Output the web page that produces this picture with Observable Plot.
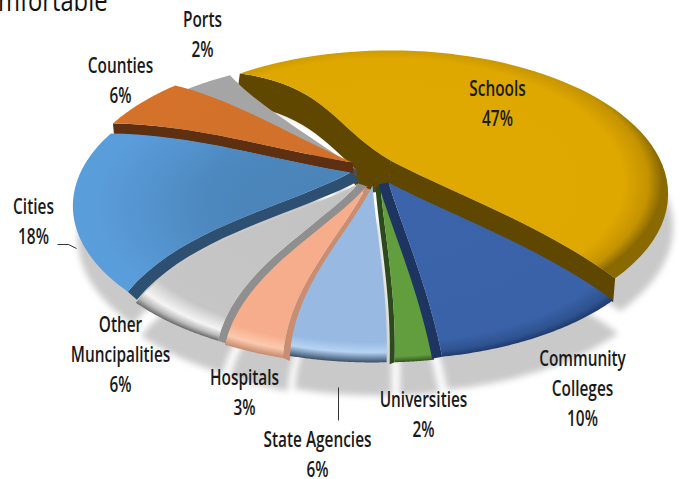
<!DOCTYPE html>
<html>
<head>
<meta charset="utf-8">
<style>html,body{margin:0;padding:0;background:#fff;overflow:hidden}</style>
<script src="https://cdn.jsdelivr.net/npm/d3@7"></script>
<script src="https://cdn.jsdelivr.net/npm/@observablehq/plot@0.6"></script>
</head>
<body>
<div id="chart"></div>
<script>
// ---- data ----
const categories = ["Schools","Community Colleges","Universities","State Agencies","Hospitals","Other Muncipalities","Cities","Counties","Ports"];
const shares = [47,10,2,6,3,6,18,6,2];
const labelLines = ["Schools\n47%","Community\nColleges\n10%","Universities\n2%","State Agencies\n6%","Hospitals\n3%","Other\nMuncipalities\n6%","Cities\n18%","Counties\n6%","Ports\n2%"];

// ---- layout (not data) ----
const W = 680, H = 479;
const cx = 368, cy = 175, a = 270, b = 135.7, p = 0.233;
const startAngle = -41;
const degPerShare = 3.6;
const offsetX = [22,20,12,4,-3,-10,-18,-16,-12];
const offsetY = [-15,7,10,10,12,8,-3,-13,-6];
const angleExtra = [8,-1,-.7,-5.6,-.3,-2.6,0,1.3,7.9];   // fitted widening of each slice, deg
const bendStart = [9,-3,-1,-1,4,6,7,4,3];
const bendEnd   = [-3,-1,-1,4,6,7,4,3,-2];
const labelX = [497,582,423,317,244,120,33,120,202];
const labelY = [101,386,412,452,390,352,219,78,32];
const stops = [
  [[0,"#e0a900"],[.86,"#dfa800"],[.95,"#c49300"],[1,"#8a6a00"]],
  [[0,"#3b64aa"],[.88,"#3a62a8"],[.96,"#2f5391"],[1,"#1f3a6e"]],
  [[0,"#629e3e"],[.96,"#629e3e"],[1,"#33561f"]],
  [[0,"#98bae2"],[.86,"#98bae2"],[.93,"#b7d3f3"],[.96,"#7f9bbb"],[1,"#3c4f66"]],
  [[0,"#f5ad8b"],[.86,"#f5ad8b"],[.94,"#fdc9ae"],[1,"#c48a6c"]],
  [[0,"#c2c2c2"],[.84,"#c6c6c6"],[.93,"#f4f4f4"],[.97,"#b9b9b9"],[1,"#6a6a6a"]],
  [[0,"#4a82b5"],[.5,"#4c87bd"],[.92,"#5a9ddb"],[1,"#5a9ddb"]],
  [[0,"#d0702a"],[1,"#d4722a"]],
  [[0,"#a5a5a5"],[1,"#a5a5a5"]]
];
const gradShiftX = [-6,0,0,0,0,0,0,0,0];
const gradShiftY = [-12,0,0,0,0,0,0,0,0];
// visible inner faces: slice index, which edge (0 start, 1 end), shift, colour
const walls = [
  [0,0,-4,30,"#5f4700"],[0,1,-2,24,"#5f4700"],
  [1,1,-10,2,"#1d3560"],[2,1,-5,2,"#2c4a1c"],
  [4,0,7,3,"#c98d72"],[5,0,9,3,"#8f8f8f"],
  [6,0,9,8,"#2d5072"],[7,0,1,11,"#5e2f10"],[8,0,1,7,"#4f4f4f"]
];
const paintOrder = [8,0,7,6,5,4,3,2,1];

// ---- geometry from the shares ----
const rad = d => d * Math.PI / 180;
function project(deg, r, ox, oy) {
  const u = r * Math.sin(rad(deg)), v = r * Math.cos(rad(deg)), w = 1 + p * v;
  return [cx + a * u / w + ox, cy - b * v / w + oy];
}
let acc = startAngle;
const slices = shares.map((s, i) => {
  const a0 = acc, a1 = acc + s * degPerShare + angleExtra[i];
  acc = a1;
  const ox = offsetX[i], oy = offsetY[i];
  const edge = (deg, bend) => d3.range(0, 21).map(k => {
    const r = k / 20;
    return project(deg + bend * 4 * r * (1 - r), r, ox, oy);
  });
  const e0 = edge(a0, bendStart[i]), e1 = edge(a1, bendEnd[i]);
  const rim = d3.range(0, 61).map(k => project(a0 + (a1 - a0) * k / 60, 1, ox, oy));
  return {i, ox, oy, e0, e1, outline: [...e0, ...rim, ...e1.slice().reverse()]};
});

const poly = (pts, fill, extra = {}) => Plot.line(pts, {x: d => d[0], y: d => d[1], fill, stroke: "none", curve: "linear", ...extra});

const marks = [];
// shadow
for (const s of slices) {
  marks.push(poly(s.outline.map(([x, y]) => [x + 5, y + 33]), "#c9c9c9", {imageFilter: "blur(3px)"}));
}
const addWalls = i => {
  const s = slices[i];
  for (const [k, e, dx, dy, c] of walls) {
    if (k !== i) continue;
    const pts = e === 0 ? s.e0 : s.e1;
    marks.push(poly([...pts, ...pts.slice().reverse().map(([x, y]) => [x + dx, y + dy])], c));
  }
};
// the big slice's inner faces and the dark hub lie under everything else
addWalls(0);
const apexes = slices.map(t => t.e0[0]);
marks.push(poly(d3.polygonHull([...apexes, ...apexes.map(([x, y]) => [x, y + 6])]), "#5f4700"));
for (const i of paintOrder) {
  if (i !== 0) addWalls(i);
  marks.push(poly(slices[i].outline, `url(#grad${i})`));
}
// leader lines
const leaderData = [{x1:57,y1:244,x2:68,y2:244},{x1:68,y1:244,x2:76,y2:248},{x1:338,y1:387,x2:338,y2:420}];
marks.push(Plot.link(leaderData, {x1:"x1",y1:"y1",x2:"x2",y2:"y2",stroke:"#333",strokeWidth:1}));
// labels
const font = "'Open Sans','Noto Sans',sans-serif";
marks.push(Plot.text(categories.map((c, i) => ({c, t: labelLines[i], x: labelX[i], y: labelY[i]})), {
  x: "x", y: "y", text: "t", fontSize: 22, fontWeight: 600, lineHeight: 1.364, fill: "#1a1a1a", fontFamily: font, textAnchor: "middle", className: "lab"
}));
marks.push(Plot.text(["mfortable"], {x: () => 107, y: () => 1, text: d => d, textAnchor: "end", fontSize: 29, fill: "#111", fontFamily: font, className: "head"}));

const chart = Plot.plot({
  width: W, height: H, margin: 0,
  x: {domain: [0, W], range: [0, W], axis: null},
  y: {domain: [0, H], range: [0, H], axis: null},
  marks
});
// condensed letterforms: no condensed family is installed, so narrow the text horizontally
d3.select(chart).selectAll("g.lab text").attr("transform", function () { return this.getAttribute("transform") + " scale(0.7,1)"; });
d3.select(chart).selectAll("g.head text").attr("transform", function () { return this.getAttribute("transform") + " scale(0.82,1)"; });
// radial gradients shared through the fill url
const defs = d3.select(chart).insert("defs", ":first-child");
const ecy = cy + (b / (1 - p) - b / (1 + p)) / 2, rx = a / Math.sqrt(1 - p * p), ry = b / (1 - p * p);
slices.forEach(s => {
  const g = defs.append("radialGradient").attr("id", `grad${s.i}`).attr("gradientUnits", "userSpaceOnUse")
    .attr("cx", 0).attr("cy", 0).attr("r", 1)
    .attr("gradientTransform", `translate(${cx + s.ox + gradShiftX[s.i]},${ecy + s.oy + gradShiftY[s.i]}) scale(${rx},${ry})`);
  stops[s.i].forEach(([o, c]) => g.append("stop").attr("offset", o).attr("stop-color", c));
});
document.getElementById("chart").append(chart);
</script>
</body>
</html>
